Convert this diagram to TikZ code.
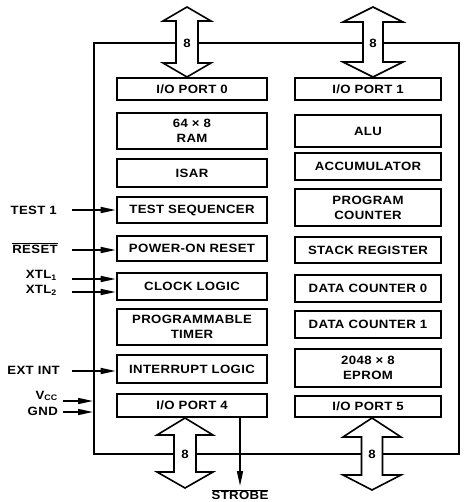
\documentclass[tikz,border=0pt]{standalone}
\usepackage{fontspec}
\setmainfont{Liberation Sans}[FakeStretch=1.1, LetterSpace=3]
\usetikzlibrary{arrows.meta}
\newcommand\blkat[6]{%
  \node[blk, minimum width={(#4)-(#2)}, minimum height={(#5)-(#3)}] (#1) at ({((#2)+(#4))/2},{((#3)+(#5))/2}) {#6};}
\newcommand\dblarrow[8]{% name, cx, tip1, base1, base2, tip2, hw, sw
  \filldraw[busarrow] (#2,#3) -- ({#2+#7},#4) -- ({#2+#8},#4) -- ({#2+#8},#5) -- ({#2+#7},#5) -- (#2,#6)
     -- ({#2-#7},#5) -- ({#2-#8},#5) -- ({#2-#8},#4) -- ({#2-#7},#4) -- cycle;}
\begin{document}
\begin{tikzpicture}[x=1pt,y=-1pt,
  every node/.style={font=\bfseries\fontsize{12}{15}\selectfont},
  blk/.style={draw, line width=2.6pt, inner sep=0pt, align=center},
  frame/.style={line width=2pt},
  busarrow/.style={fill=white, draw=black, line width=1.6pt, line join=miter},
  inarrow/.style={line width=1.6pt, -{Triangle[length=15pt,width=6pt]}},
  lbl/.style={anchor=east, inner sep=0pt},
  buslbl/.style={inner sep=0pt}]
\useasboundingbox (0,0) rectangle (463,502);
% outer frame
\draw[frame] (94,43) rectangle (459,454);
% left column
\blkat{io0}{117}{78}{267}{100}{I/O PORT 0}
\blkat{ram}{117}{113}{267}{149}{64 × 8\\RAM}
\blkat{isar}{117}{159}{267}{187}{ISAR}
\blkat{testseq}{117}{197}{267}{223}{TEST SEQUENCER}
\blkat{por}{117}{236}{267}{261}{POWER-ON RESET}
\blkat{clock}{117}{273}{267}{300}{CLOCK LOGIC}
\blkat{timer}{117}{309}{267}{345}{PROGRAMMABLE\\TIMER}
\blkat{intr}{117}{355}{267}{383}{INTERRUPT LOGIC}
\blkat{io4}{117}{394}{267}{417}{I/O PORT 4}
% right column
\blkat{io1}{295}{78}{441}{100}{I/O PORT 1}
\blkat{alu}{295}{115}{441}{147}{ALU}
\blkat{acc}{295}{153}{441}{180}{ACCUMULATOR}
\blkat{pc}{295}{189}{441}{226}{PROGRAM\\COUNTER}
\blkat{stack}{295}{237}{441}{263}{STACK REGISTER}
\blkat{dc0}{295}{275}{441}{302}{DATA COUNTER 0}
\blkat{dc1}{295}{311}{441}{338}{DATA COUNTER 1}
\blkat{eprom}{295}{349}{441}{387}{2048 × 8\\EPROM}
\blkat{io5}{295}{396}{441}{417}{I/O PORT 5}
% bus arrows
\dblarrow{b0}{187}{7}{21}{63}{77}{24}{11}
\node[buslbl] (b0l) at (187,43) {8};
\dblarrow{b1}{373}{7}{22}{62}{77}{30}{10}
\node[buslbl] (b1l) at (373,43) {8};
\dblarrow{b4}{185}{418}{435}{472}{488}{28}{11}
\node[buslbl] (b4l) at (185,454) {8};
\dblarrow{b5}{372}{418}{437}{475}{490}{29}{10.5}
\node[buslbl] (b5l) at (372,454) {8};
% inputs
\node[lbl] (ltest) at (57,210) {TEST 1};
\coordinate (ctest) at (72,210);
\draw[inarrow] (ctest) -- (ctest -| testseq.west);
\node[lbl] (lres) at (58,248) {$\overline{\mbox{RESET}}$};
\coordinate (cres) at (72,250);
\draw[inarrow] (cres) -- (cres -| por.west);
\node[lbl] (lx1) at (57,275) {XTL\textsubscript{1}};
\node[lbl] (lx2) at (57,290) {XTL\textsubscript{2}};
\coordinate (cx1) at (72,279);
\coordinate (cx2) at (72,292);
\draw[inarrow] (cx1) -- (cx1 -| clock.west);
\draw[inarrow] (cx2) -- (cx2 -| clock.west);
\node[lbl] (lext) at (60,370) {EXT INT};
\coordinate (cext) at (72,371);
\draw[inarrow] (cext) -- (cext -| intr.west);
\node[lbl] (lvcc) at (58,396) {V\textsubscript{CC}};
\node[lbl] (lgnd) at (58,411) {GND};
\coordinate (cvcc) at (63,401);
\coordinate (cgnd) at (63,412);
\draw[inarrow] (cvcc) -- (93,401);
\draw[inarrow] (cgnd) -- (93,412);
% strobe
\coordinate (cstr) at (240,486);
\draw[inarrow] (io4.south -| cstr) -- (cstr);
\node[inner sep=0pt, anchor=north] (lstr) at (240,489) {$\overline{\mbox{STROBE}}$};
\end{tikzpicture}
\end{document}
